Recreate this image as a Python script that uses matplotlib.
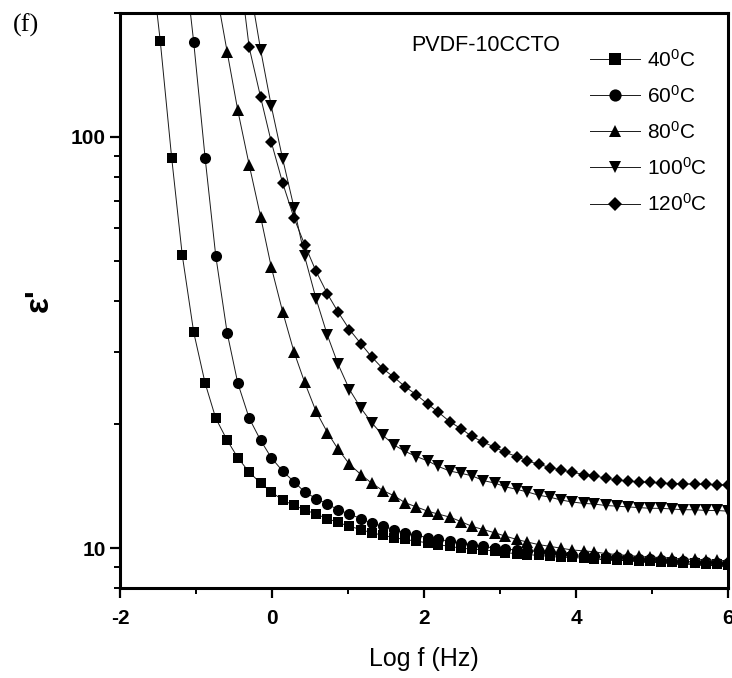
import numpy as np
import matplotlib
matplotlib.use("Agg")
import matplotlib.pyplot as plt
import matplotlib.ticker as ticker
from matplotlib import font_manager

# pick a condensed sans if one is installed
_names = {f.name for f in font_manager.fontManager.ttflist}
SANS = "Liberation Sans Narrow" if "Liberation Sans Narrow" in _names else "Liberation Sans"
plt.rcParams["font.family"] = [SANS, "DejaVu Sans"]
plt.rcParams["mathtext.default"] = "regular"
plt.rcParams["axes.unicode_minus"] = False

log_f = [-1.62, -1.47, -1.32, -1.18, -1.03, -0.88, -0.74, -0.59, -0.45, -0.30,
         -0.15, -0.01, 0.14, 0.29, 0.43, 0.58, 0.73, 0.87, 1.02, 1.17,
         1.31, 1.46, 1.61, 1.75, 1.90, 2.05, 2.19, 2.34, 2.49, 2.63,
         2.78, 2.93, 3.07, 3.22, 3.36, 3.51, 3.66, 3.80, 3.95, 4.10,
         4.24, 4.39, 4.54, 4.68, 4.83, 4.98, 5.12, 5.27, 5.41, 5.56,
         5.71, 5.85, 6.00]

nan = np.nan

eps_40 = [300, 171, 89, 51.5, 33.5, 25.2, 20.7, 18.3, 16.6, 15.3,
          14.4, 13.7, 13.1, 12.7, 12.4, 12.1, 11.8, 11.55, 11.3, 11.1,
          10.9, 10.75, 10.6, 10.5, 10.4, 10.3, 10.2, 10.1, 10.0, 9.95,
          9.9, 9.85, 9.75, 9.7, 9.65, 9.6, 9.55, 9.5, 9.5, 9.45,
          9.4, 9.4, 9.35, 9.35, 9.3, 9.3, 9.25, 9.25, 9.2, 9.2,
          9.15, 9.15, 9.1]

eps_60 = [nan, nan, nan, 300, 170, 89, 51.4, 33.4, 25.2, 20.7,
          18.3, 16.6, 15.4, 14.5, 13.7, 13.2, 12.8, 12.4, 12.1, 11.8,
          11.5, 11.3, 11.1, 10.9, 10.75, 10.6, 10.5, 10.4, 10.3, 10.2,
          10.1, 10.0, 9.95, 9.9, 9.85, 9.8, 9.75, 9.7, 9.65, 9.6,
          9.55, 9.5, 9.5, 9.45, 9.4, 9.4, 9.35, 9.3, 9.3, 9.25,
          9.25, 9.2, 9.2]

eps_80 = [nan, nan, nan, nan, nan, nan, 230, 161, 116, 85.5,
          64, 48.3, 37.6, 30, 25.3, 21.5, 19.1, 17.4, 16.0, 15.1,
          14.4, 13.8, 13.4, 12.9, 12.6, 12.3, 12.1, 11.9, 11.6, 11.3,
          11.1, 10.9, 10.7, 10.5, 10.35, 10.2, 10.1, 10.0, 9.9, 9.85,
          9.8, 9.7, 9.65, 9.6, 9.55, 9.5, 9.5, 9.45, 9.4, 9.4,
          9.35, 9.35, 9.3]

eps_100 = [nan, nan, nan, nan, nan, nan, nan, nan, nan, 238,
           163, 119, 88.5, 67.3, 51.2, 40.4, 32.9, 28.0, 24.3, 21.9,
           20.2, 18.8, 17.8, 17.2, 16.7, 16.3, 15.8, 15.4, 15.2, 15.0,
           14.6, 14.4, 14.1, 13.9, 13.7, 13.45, 13.3, 13.1, 12.95, 12.85,
           12.8, 12.7, 12.65, 12.6, 12.55, 12.5, 12.5, 12.45, 12.4, 12.4,
           12.35, 12.35, 12.3]

eps_120 = [nan, nan, nan, nan, nan, nan, nan, nan, 278, 165,
           125, 97.3, 77.3, 63.5, 54.7, 47.1, 41.5, 37.5, 34.0, 31.4,
           29.2, 27.3, 26.0, 24.7, 23.6, 22.4, 21.4, 20.3, 19.5, 18.7,
           18.1, 17.6, 17.1, 16.7, 16.3, 16.0, 15.7, 15.5, 15.3, 15.1,
           15.0, 14.8, 14.65, 14.55, 14.5, 14.45, 14.4, 14.35, 14.35, 14.3,
           14.3, 14.25, 14.25]

labels = ["40$^0$C", "60$^0$C", "80$^0$C", "100$^0$C", "120$^0$C"]
series = [eps_40, eps_60, eps_80, eps_100, eps_120]
markers = ["s", "o", "^", "v", "D"]
msizes = [7.5, 8, 8.5, 8.5, 6.5]

fig = plt.figure(figsize=(7.32, 6.78), dpi=100)
ax = fig.add_axes([0.1639, 0.1327, 0.8306, 0.8481])

for eps, lab, mk, ms in zip(series, labels, markers, msizes):
    ax.plot(log_f, eps, color="#1a1a1a", linewidth=0.7, marker=mk, markersize=ms,
            markerfacecolor="black", markeredgewidth=0, label=lab)

ax.set_yscale("log")
ax.set_xlim(-2, 6)
ax.set_ylim(8, 200)

ax.xaxis.set_major_locator(ticker.MultipleLocator(2))
ax.xaxis.set_minor_locator(ticker.MultipleLocator(1))
ax.set_yticks([10, 100])
ax.set_yticklabels(["10", "100"])
ax.yaxis.set_minor_formatter(ticker.NullFormatter())

for side in ax.spines.values():
    side.set_linewidth(2.2)
ax.tick_params(which="major", direction="out", length=7, width=1.6,
               labelsize=15, pad=3)
ax.tick_params(axis="x", which="major", pad=8)
ax.tick_params(which="minor", direction="out", length=4.5, width=1.4)
for lbl in ax.get_xticklabels() + ax.get_yticklabels():
    lbl.set_fontweight("bold")

ax.set_xlabel("Log f (Hz)", fontsize=18, labelpad=14)
ax.set_ylabel("ε'", fontsize=24, fontweight="bold", labelpad=12)

ax.text(0.602, 0.943, "PVDF-10CCTO", transform=ax.transAxes,
        fontsize=15.5, ha="center", va="center")

ax.legend(loc="upper left", bbox_to_anchor=(0.773, 0.938), frameon=False,
          fontsize=15, handlelength=2.4, handletextpad=0.35,
          labelspacing=0.68, borderpad=0, borderaxespad=0, numpoints=1,
          markerscale=1.1)

fig.text(0.036, 0.962, "(f)", fontsize=19, family="Liberation Serif",
         ha="center", va="center")

fig.savefig("out.png", dpi=100)
